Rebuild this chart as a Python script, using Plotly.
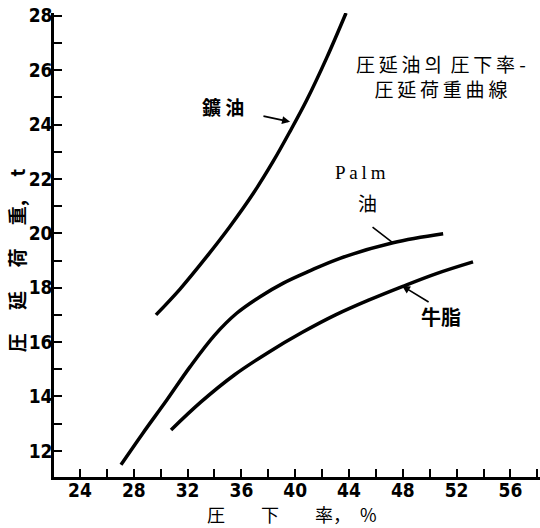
import plotly.graph_objects as go

# 鑛油 (mineral oil)
mineral_x = [29.65, 31.44, 33.42, 35.15, 36.89, 38.37, 39.62, 40.86, 42.34, 43.78]
mineral_y = [17.0, 17.95, 19.14, 20.25, 21.47, 22.65, 23.75, 24.9, 26.45, 28.1]

# Palm 油
palm_x = [27.05, 28.69, 30.47, 32.18, 34.0, 35.65, 37.39, 39.12, 41.0, 43.33, 47.27, 51.0]
palm_y = [11.49, 12.66, 13.88, 15.09, 16.25, 17.06, 17.67, 18.17, 18.6, 19.08, 19.65, 19.98]

# 牛脂 (tallow)
tallow_x = [30.77, 33.0, 35.5, 38.0, 40.5, 43.0, 45.5, 48.0, 50.5, 53.22]
tallow_y = [12.77, 13.8, 14.8, 15.62, 16.35, 17.0, 17.55, 18.05, 18.52, 18.95]

x_ticks = [24, 28, 32, 36, 40, 44, 48, 52, 56]
x_tick_labels = ["24", "28", "32", "36", "40", "44", "48", "52", "56"]
y_ticks = [12, 14, 16, 18, 20, 22, 24, 26, 28]
y_tick_labels = ["12", "14", "16", "18", "20", "22", "24", "26", "28"]

CJK = "Noto Sans CJK JP, Noto Sans CJK KR, sans-serif"
NUM = "Liberation Sans Narrow, Arial Narrow, DejaVu Sans Condensed, sans-serif"
T = "\u2009"

fig = go.Figure()
for xs, ys in [(mineral_x, mineral_y), (palm_x, palm_y), (tallow_x, tallow_y)]:
    fig.add_trace(go.Scatter(x=xs, y=ys, mode="lines",
                             line=dict(color="black", width=3.5, shape="spline", smoothing=1.0),
                             showlegend=False, hoverinfo="skip"))

ann = []
# curve labels
ann.append(dict(x=34.64, y=24.65, text="鑛 油", showarrow=False,
                font=dict(family=CJK, size=19, color="black", weight="bold")))
ann.append(dict(x=39.62, y=24.10, ax=37.53, ay=24.32, axref="x", ayref="y", text="",
                showarrow=True, arrowhead=2, arrowsize=1, arrowwidth=1.6, arrowcolor="black"))
ann.append(dict(x=44.82, y=22.22, text=T.join("Palm"), showarrow=False,
                font=dict(family="Liberation Serif, serif", size=19, color="black")))
ann.append(dict(x=45.34, y=21.15, text="油", showarrow=False,
                font=dict(family=CJK, size=19, color="black")))
ann.append(dict(x=47.27, y=19.65, ax=45.64, ay=20.27, axref="x", ayref="y", text="",
                showarrow=True, arrowhead=0, arrowwidth=1.6, arrowcolor="black"))
ann.append(dict(x=50.84, y=16.93, text="牛脂", showarrow=False,
                font=dict(family=CJK, size=20, color="black", weight="bold")))
ann.append(dict(x=47.94, y=18.07, ax=50.03, ay=17.44, axref="x", ayref="y", text="",
                showarrow=True, arrowhead=2, arrowsize=1, arrowwidth=1.6, arrowcolor="black"))
# chart title text (two lines)
ann.append(dict(x=50.85, y=25.8, align="center",
                text=T.join("圧延油의") + "  " + T.join("圧下率") + " -<br>" + T.join("圧延荷重曲線"),
                showarrow=False, font=dict(family=CJK, size=19, color="black")))
# axis titles
ann.append(dict(xref="paper", yref="paper", x=0, xshift=-38, y=0.465, textangle=-90,
                xanchor="center", yanchor="middle",
                text="圧　 延　 荷　 重,　 t", showarrow=False,
                font=dict(family=CJK, size=19, color="black", weight="bold")))
ann.append(dict(xref="paper", yref="paper", x=0.49, y=-0.08,
                xanchor="center", yanchor="middle",
                text="圧　　下　　率，　%", showarrow=False,
                font=dict(family=CJK, size=18, color="black")))

fig.update_layout(
    width=540, height=528,
    margin=dict(l=54, r=0, t=13, b=51, autoexpand=False),
    paper_bgcolor="white", plot_bgcolor="white",
    annotations=ann,
    xaxis=dict(range=[22.07, 58.2], showgrid=False, zeroline=False, automargin=False,
               showline=True, linecolor="black", linewidth=2.5,
               tickmode="array", tickvals=x_ticks, ticktext=x_tick_labels,
               ticks="inside", ticklen=8, tickwidth=1.5, tickcolor="black",
               ticklabelstandoff=-6,
               minor=dict(dtick=2, tick0=0, ticks="inside", ticklen=8, tickwidth=1.5, tickcolor="black"),
               tickfont=dict(family=NUM, size=19, color="black", weight="bold")),
    yaxis=dict(range=[11.04, 28.1], showgrid=False, zeroline=False, automargin=False,
               showline=True, linecolor="black", linewidth=2.5,
               tickmode="array", tickvals=y_ticks, ticktext=y_tick_labels,
               ticks="inside", ticklen=8, tickwidth=1.5, tickcolor="black",
               ticklabelstandoff=-5,
               minor=dict(dtick=1, tick0=0, ticks="inside", ticklen=8, tickwidth=1.5, tickcolor="black"),
               tickfont=dict(family=NUM, size=19, color="black", weight="bold")),
)

fig.write_html("out.html", config={"displayModeBar": False},
               post_script="document.body.style.margin='0';")
